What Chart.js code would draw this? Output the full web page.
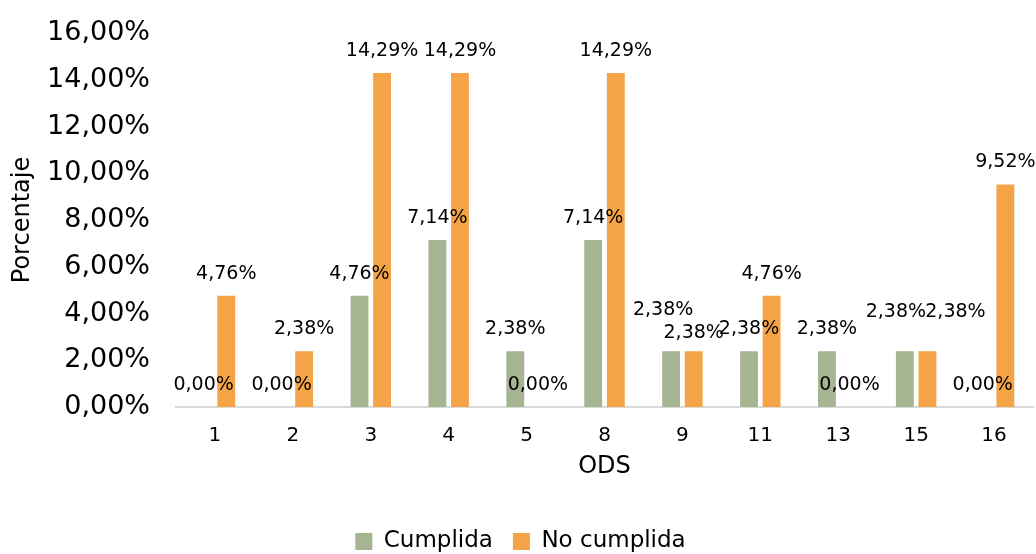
<!DOCTYPE html>
<html>
<head>
<meta charset="utf-8">
<script src="https://cdn.jsdelivr.net/npm/chart.js@4"></script>
<style>
    html, body { margin: 0; padding: 0; background: #fff; }
    #wrap { width: 1036px; height: 554px; }
</style>
</head>
<body>
<div id="wrap"><canvas id="chart"></canvas></div>
<script>
const categories = ['1', '2', '3', '4', '5', '8', '9', '11', '13', '15', '16'];
const cumplida = [0, 0, 4.76, 7.14, 2.38, 7.14, 2.38, 2.38, 2.38, 2.38, 0];
const noCumplida = [4.76, 2.38, 14.29, 14.29, 0, 14.29, 2.38, 4.76, 0, 2.38, 9.52];
const yTicks = [0, 2, 4, 6, 8, 10, 12, 14, 16];

const FONT = '"DejaVu Sans", Verdana, sans-serif';

const fmt = v => v.toFixed(2).replace('.', ',') + '%';

// some labels were dragged by hand in the original, nudge those
const nudges = {
    '0-6': [-8, -19],
    '1-6': [0, 4],
    '0-9': [-9, -17],
    '1-9': [28, -17]
};

const valueLabels = {
    id: 'valueLabels',
    afterDatasetsDraw(chart) {
        const ctx = chart.ctx;
        ctx.save();
        ctx.font = '19px ' + FONT;
        ctx.fillStyle = '#000';
        ctx.textAlign = 'center';
        ctx.textBaseline = 'middle';
        chart.data.datasets.forEach((ds, di) => {
            chart.getDatasetMeta(di).data.forEach((bar, i) => {
                const n = nudges[di + '-' + i] || [0, 0];
                ctx.fillText(fmt(ds.data[i]), bar.x + n[0], bar.y - 22 + n[1]);
            });
        });
        ctx.restore();
    }
};

new Chart(document.getElementById('chart'), {
    type: 'bar',
    data: {
        labels: categories,
        datasets: [
            {
                label: 'Cumplida',
                data: cumplida,
                backgroundColor: '#a5b592',
                categoryPercentage: 0.58,
                barPercentage: 0.79
            },
            {
                label: 'No cumplida',
                data: noCumplida,
                backgroundColor: '#f4a446',
                categoryPercentage: 0.58,
                barPercentage: 0.79
            }
        ]
    },
    options: {
        responsive: true,
        maintainAspectRatio: false,
        animation: false,
        layout: {
            autoPadding: false,
            padding: { top: 33, right: 3, left: 8, bottom: -9 }
        },
        plugins: {
            tooltip: { enabled: false },
            legend: {
                position: 'bottom',
                labels: {
                    font: { family: FONT, size: 23, lineHeight: 1 },
                    color: '#000',
                    boxWidth: 17,
                    boxHeight: 17,
                    padding: 20
                }
            }
        },
        scales: {
            x: {
                grid: { display: false, drawTicks: false },
                border: { display: true, color: '#d9d9d9', width: 2 },
                ticks: {
                    font: { family: FONT, size: 20 },
                    color: '#000',
                    padding: 17
                },
                title: {
                    display: true,
                    text: 'ODS',
                    font: { family: FONT, size: 24 },
                    color: '#000',
                    padding: { top: 0, bottom: 29 }
                },
                afterFit: scale => { scale.height = 103; }
            },
            y: {
                min: 0,
                max: 16,
                afterBuildTicks: scale => {
                    scale.ticks = yTicks.map(v => ({ value: v }));
                },
                grid: { display: false, drawTicks: false },
                border: { display: false },
                ticks: {
                    font: { family: FONT, size: 27 },
                    color: '#000',
                    padding: 26,
                    callback: v => fmt(v)
                },
                title: {
                    display: true,
                    text: 'Porcentaje',
                    font: { family: FONT, size: 24 },
                    color: '#000',
                    padding: { top: 0, bottom: 0 }
                },
                afterFit: scale => {
                    scale.width = 168;
                    scale.paddingTop = 0;
                    scale.paddingBottom = 0;
                }
            }
        }
    },
    plugins: [valueLabels]
});
</script>
</body>
</html>
